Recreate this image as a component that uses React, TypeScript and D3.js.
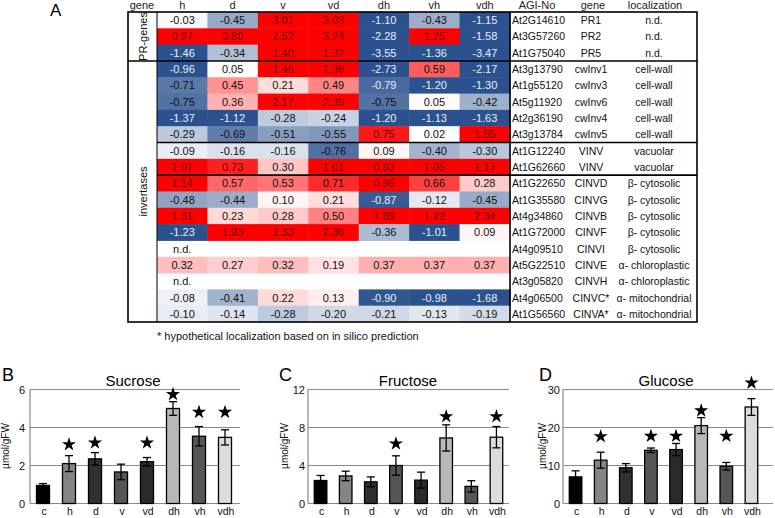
import React from 'react';
import * as d3 from 'd3';

const FONT = 'Liberation Sans, Arial, Helvetica, sans-serif';

// ---- panel A: expression heatmap ----
const conditions = ['h', 'd', 'v', 'vd', 'dh', 'vh', 'vdh'];
const agiNo = [
  'At2G14610', 'At3G57260', 'At1G75040',
  'At3g13790', 'At1g55120', 'At5g11920', 'At2g36190', 'At3g13784',
  'At1G12240', 'At1G62660',
  'At1G22650', 'At1G35580', 'At4g34860', 'At1G72000', 'At4g09510',
  'At5G22510', 'At3g05820', 'At4g06500', 'At1G56560',
];
const geneNames = [
  'PR1', 'PR2', 'PR5',
  'cwInv1', 'cwInv3', 'cwInv6', 'cwInv4', 'cwInv5',
  'VINV', 'VINV',
  'CINVD', 'CINVG', 'CINVB', 'CINVF', 'CINVI', 'CINVE', 'CINVH', 'CINVC*', 'CINVA*',
];
const localization = [
  'n.d.', 'n.d.', 'n.d.',
  'cell-wall', 'cell-wall', 'cell-wall', 'cell-wall', 'cell-wall',
  'vacuolar', 'vacuolar',
  'β- cytosolic', 'β- cytosolic', 'β- cytosolic', 'β- cytosolic', 'β- cytosolic',
  'α- chloroplastic', 'α- chloroplastic', 'α- mitochondrial', 'α- mitochondrial',
];
const expression: (number[] | null)[] = [
  [-0.03, -0.45, 3.01, 3.03, -1.10, -0.43, -1.15],
  [0.97, 0.80, 2.52, 3.24, -2.28, 1.25, -1.58],
  [-1.46, -0.34, 1.40, 1.37, -3.55, -1.36, -3.47],
  [-0.96, 0.05, 1.46, 1.36, -2.73, 0.59, -2.17],
  [-0.71, 0.45, 0.21, 0.49, -0.79, -1.20, -1.30],
  [-0.75, 0.36, 2.17, 2.39, -0.75, 0.05, -0.42],
  [-1.37, -1.12, -0.28, -0.24, -1.20, -1.13, -1.63],
  [-0.29, -0.69, -0.51, -0.55, 0.75, 0.02, 1.55],
  [-0.09, -0.16, -0.16, -0.76, 0.09, -0.40, -0.30],
  [1.07, 0.73, 0.30, 1.01, 0.83, 1.05, 1.17],
  [1.14, 0.57, 0.53, 0.71, 0.96, 0.66, 0.28],
  [-0.48, -0.44, 0.10, 0.21, -0.87, -0.12, -0.45],
  [1.31, 0.23, 0.28, 0.50, 1.89, 1.22, 2.34],
  [-1.23, 1.93, 1.33, 2.36, -0.36, -1.01, 0.09],
  null,
  [0.32, 0.27, 0.32, 0.19, 0.37, 0.37, 0.37],
  null,
  [-0.08, -0.41, 0.22, 0.13, -0.90, -0.98, -1.68],
  [-0.10, -0.14, -0.28, -0.20, -0.21, -0.13, -0.19],
];
// group separators (after row index) and side labels
const separators = [3, 8, 10];
const sideGroups = [
  { label: 'PR-genes', from: 0, to: 3 },
  { label: 'invertases', from: 3, to: 19 },
];

// ---- panels B-D: sugar contents ----
const samples = ['c', 'h', 'd', 'v', 'vd', 'dh', 'vh', 'vdh'];
const sampleFill = ['#000000', '#858585', '#303030', '#555555', '#2a2a2a', '#b8b8b8', '#565656', '#dcdcdc'];

const sucroseMean = [0.95, 2.1, 2.35, 1.66, 2.2, 5.0, 3.54, 3.48];
const sucroseErr = [0.1, 0.42, 0.33, 0.41, 0.22, 0.36, 0.51, 0.4];
const sucroseStar = [null, 3.16, 3.25, null, 3.25, 5.8, 4.86, 4.86];

const fructoseMean = [2.42, 2.9, 2.28, 4.0, 2.46, 6.9, 1.8, 6.98];
const fructoseErr = [0.53, 0.5, 0.52, 1.02, 0.84, 1.38, 0.6, 1.12];
const fructoseStar = [null, null, null, 6.4, null, 9.26, null, 9.26];

const glucoseMean = [7.0, 11.4, 9.4, 14.0, 14.2, 20.5, 9.8, 25.4];
const glucoseErr = [1.6, 2.1, 1.1, 0.6, 1.6, 2.1, 1.0, 2.2];
const glucoseStar = [null, 17.9, null, 18.0, 18.0, 24.7, 18.0, 32.0];

// heat colours
const blueFull = '#2b528e';
const redFull = '#ff0000';
const blueScale = d3.scaleLinear<string>().domain([0, 0.92]).range(['#ffffff', blueFull]).clamp(true);
const redScale = d3.scalePow<string>().exponent(1.5).domain([0, 0.8]).range(['#ffffff', redFull]).clamp(true);

function heatFill(v: number) {
  return v < 0 ? blueScale(-v) : redScale(v);
}
function heatText(v: number) {
  if (v >= 0.72) return '#6a0000';
  if (v <= -0.78) return '#e9eef6';
  return '#111111';
}

function Heatmap() {
  const left = 128;
  const geneColRight = 157;
  const cellRight = 510;
  const tableRight = 697;
  const x = d3.scaleBand<string>().domain(conditions).range([geneColRight, cellRight]);
  const y = d3.scaleBand<number>().domain(d3.range(expression.length)).range([12, 322]);
  const rowH = y.bandwidth();
  const top = y.range()[0];
  const bottom = y.range()[1];

  return (
    <g fontFamily={FONT}>
      <text x={50} y={16} fontSize={17}>A</text>

      {/* header */}
      <g fontSize={11} fill="#222" textAnchor="middle">
        <text x={142} y={9}>gene</text>
        {conditions.map((c) => (
          <text key={c} x={(x(c) as number) + x.bandwidth() / 2} y={9}>{c}</text>
        ))}
        <text x={537} y={9}>AGI-No</text>
        <text x={593} y={9}>gene</text>
        <text x={655} y={9}>localization</text>
      </g>

      {/* cells */}
      {expression.map((row, i) => {
        const yy = y(i) as number;
        if (!row) {
          return (
            <text key={i} x={(x('h') as number) + x.bandwidth() / 2} y={yy + rowH / 2 + 4}
              fontSize={11} textAnchor="middle" fill="#111">n.d.</text>
          );
        }
        return (
          <g key={i}>
            {row.map((v, j) => {
              const cx = x(conditions[j]) as number;
              return (
                <g key={j}>
                  <rect x={cx} y={yy} width={x.bandwidth() + 0.5} height={rowH + 0.5} fill={heatFill(v)} />
                  <text x={cx + x.bandwidth() / 2} y={yy + rowH / 2 + 4} fontSize={11}
                    textAnchor="middle" fill={heatText(v)}>{v.toFixed(2)}</text>
                </g>
              );
            })}
          </g>
        );
      })}

      {/* right-hand table */}
      <g fontSize={10.5} fill="#111">
        {agiNo.map((a, i) => {
          const ty = (y(i) as number) + rowH / 2 + 4;
          return (
            <g key={i}>
              <text x={512} y={ty}>{a}</text>
              <text x={591} y={ty} textAnchor="middle">{geneNames[i]}</text>
              <text x={654} y={ty} textAnchor="middle">{localization[i]}</text>
            </g>
          );
        })}
      </g>

      {/* side group labels */}
      {sideGroups.map((g) => {
        const cy = ((y(g.from) as number) + (y(g.to - 1) as number) + rowH) / 2;
        return (
          <text key={g.label} transform={`translate(${(left + geneColRight) / 2 + 4},${cy}) rotate(-90)`}
            fontSize={11} textAnchor="middle" fill="#111">{g.label}</text>
        );
      })}

      {/* borders */}
      <g stroke="#000" strokeWidth={1.6} fill="none">
        <rect x={left} y={top} width={tableRight - left} height={bottom - top} />
        <line x1={geneColRight} x2={geneColRight} y1={top} y2={bottom} strokeWidth={1} />
        <line x1={cellRight} x2={cellRight} y1={top} y2={bottom} />
        {separators.map((s) => (
          <line key={s} x1={s === 3 ? left : geneColRight} x2={tableRight}
            y1={y(s) as number} y2={y(s) as number} />
        ))}
      </g>

      <text x={157} y={340} fontSize={11} fill="#111">
        * hypothetical localization based on in silico prediction
      </text>
    </g>
  );
}

interface PanelProps {
  letter: string;
  letterX: number;
  title: string;
  titleX: number;
  axisX: number;
  rangeEnd: number;
  gridEnd: number;
  yMax: number;
  ticks: number[];
  tickGap: number;
  ylabelX: number;
  mean: number[];
  err: number[];
  star: (number | null)[];
}

function BarPanel(p: PanelProps) {
  const x = d3.scaleBand<string>().domain(samples).range([p.axisX, p.rangeEnd]).paddingInner(0.5).paddingOuter(0.25);
  const y = d3.scaleLinear().domain([0, p.yMax]).range([503.5, 389.5]);
  const star = d3.symbol().type(d3.symbolStar).size(62)();
  const capW = 8;

  return (
    <g fontFamily={FONT}>
      <text x={p.letterX} y={381} fontSize={18}>{p.letter}</text>
      <text x={p.titleX} y={386} fontSize={15} textAnchor="middle">{p.title}</text>

      {/* grid + axes */}
      {p.ticks.map((t) => (
        <g key={t}>
          {t > 0 && (
            <line x1={p.axisX} x2={p.gridEnd} y1={y(t)} y2={y(t)} stroke="#8a8a8a" strokeWidth={1} />
          )}
          <text x={p.axisX - p.tickGap} y={y(t) + 4} fontSize={11} textAnchor="end" fill="#111">{t}</text>
        </g>
      ))}
      <line x1={p.axisX} x2={p.axisX} y1={y(p.yMax)} y2={y(0)} stroke="#8a8a8a" strokeWidth={1.2} />
      <line x1={p.axisX} x2={p.gridEnd} y1={y(0)} y2={y(0)} stroke="#8a8a8a" strokeWidth={1.2} />

      <text transform={`translate(${p.ylabelX},446) rotate(-90)`} fontSize={10} textAnchor="middle"
        dominantBaseline="middle" fill="#111">µmol/gFW</text>

      {samples.map((s, i) => {
        const bx = x(s) as number;
        const cx = bx + x.bandwidth() / 2;
        const m = p.mean[i];
        const e = p.err[i];
        const st = p.star[i];
        return (
          <g key={s}>
            <rect x={bx} y={y(m)} width={x.bandwidth()} height={y(0) - y(m)}
              fill={sampleFill[i]} stroke="#000" strokeWidth={1.3} />
            <g stroke="#000" strokeWidth={1.3}>
              <line x1={cx} x2={cx} y1={y(m + e)} y2={y(m - e)} />
              <line x1={cx - capW / 2} x2={cx + capW / 2} y1={y(m + e)} y2={y(m + e)} />
              <line x1={cx - capW / 2} x2={cx + capW / 2} y1={y(m - e)} y2={y(m - e)} />
            </g>
            {st !== null && (
              <path d={star as string} transform={`translate(${cx},${y(st) + 1})`} fill="#000" />
            )}
            <text x={cx + 1} y={515} fontSize={10.5} textAnchor="middle" fill="#111">{s}</text>
          </g>
        );
      })}
    </g>
  );
}

export default function App() {
  return (
    <svg width={775} height={518} style={{ position: 'absolute', left: 0, top: 0, background: '#fff' }}>
      <rect width={775} height={518} fill="#fff" />
      <Heatmap />
      <BarPanel letter="B" letterX={2} title="Sucrose" titleX={133} axisX={30} rangeEnd={238} gridEnd={240}
        yMax={6} ticks={[0, 2, 4, 6]} tickGap={5} ylabelX={6} mean={sucroseMean} err={sucroseErr} star={sucroseStar} />
      <BarPanel letter="C" letterX={279} title="Fructose" titleX={408} axisX={308} rangeEnd={509} gridEnd={509}
        yMax={12} ticks={[0, 4, 8, 12]} tickGap={3} ylabelX={285} mean={fructoseMean} err={fructoseErr} star={fructoseStar} />
      <BarPanel letter="D" letterX={539} title="Glucose" titleX={666} axisX={563} rangeEnd={764} gridEnd={773}
        yMax={30} ticks={[0, 10, 20, 30]} tickGap={3} ylabelX={543} mean={glucoseMean} err={glucoseErr} star={glucoseStar} />
    </svg>
  );
}
